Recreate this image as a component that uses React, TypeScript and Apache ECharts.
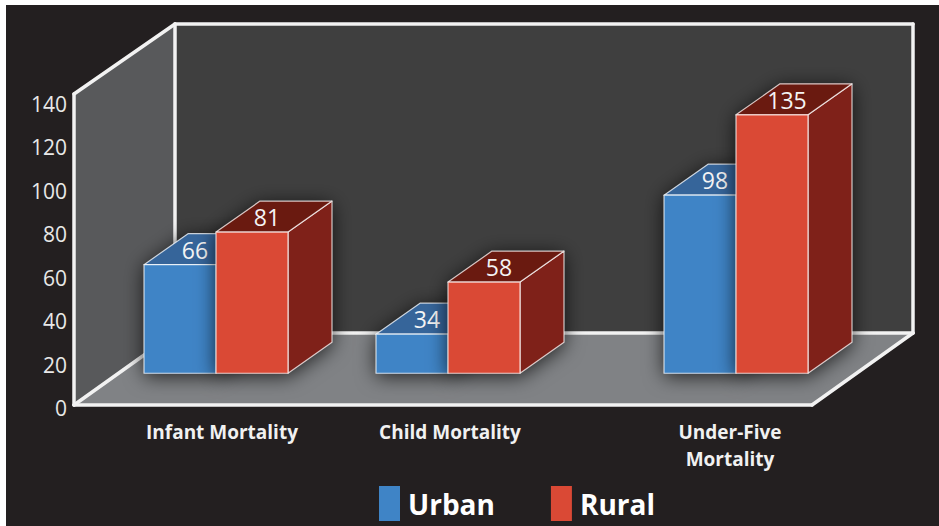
import React, { useEffect, useRef } from "react";
import * as echarts from "echarts";

const categories = ["Infant Mortality", "Child Mortality", "Under-Five\nMortality"];
const urbanValues = [66, 34, 98];
const ruralValues = [81, 58, 135];
const yTicks = { min: 0, max: 140, interval: 20 };

// Layout of the pseudo-3D scene (page pixels); the x axis runs in page pixels.
const groupCenters = [216, 448, 736];
const labelCenters = [222, 450, 730];
const BAR_W = 72;
const DEPTH_X = 44;
const DEPTH_Y = -31;
const FLOOR_VALUE = 16; // the bars stand on the floor, above the axis' zero line

const FONT = '"Open Sans", sans-serif';

function barRenderer(side: "left" | "right", front: string, top: string, sideFace: string) {
  return (params: any, api: any) => {
    const cx = api.value(0);
    const v = api.value(1);
    const [xc, yTop] = api.coord([cx, v]);
    const yBase = api.coord([cx, FLOOR_VALUE])[1];
    const x0 = side === "left" ? xc - BAR_W : xc;
    const x1 = x0 + BAR_W;
    const edge = { stroke: "rgba(255,255,255,0.75)", lineWidth: 1.2, lineJoin: "round" };
    const shadow = { shadowBlur: 20, shadowColor: "rgba(0,0,0,0.75)", shadowOffsetY: 3 };
    return {
      type: "group",
      children: [
        {
          type: "polygon",
          shape: {
            points: [
              [x0, yBase], [x1, yBase], [x1 + DEPTH_X, yBase + DEPTH_Y],
              [x1 + DEPTH_X, yTop + DEPTH_Y], [x0 + DEPTH_X, yTop + DEPTH_Y], [x0, yTop],
            ],
          },
          style: { fill: sideFace, ...shadow },
        },
        {
          type: "polygon",
          shape: { points: [[x1, yBase], [x1 + DEPTH_X, yBase + DEPTH_Y], [x1 + DEPTH_X, yTop + DEPTH_Y], [x1, yTop]] },
          style: { fill: sideFace, ...edge },
        },
        {
          type: "polygon",
          shape: { points: [[x0, yTop], [x1, yTop], [x1 + DEPTH_X, yTop + DEPTH_Y], [x0 + DEPTH_X, yTop + DEPTH_Y]] },
          style: { fill: top, ...edge },
        },
        {
          type: "rect",
          shape: { x: x0, y: yTop, width: BAR_W, height: yBase - yTop },
          style: { fill: front, ...edge },
        },
        {
          type: "text",
          style: {
            text: String(v),
            x: x0 + 51,
            y: yTop - 15,
            align: "center",
            verticalAlign: "middle",
            fill: "#f4f4f4",
            font: `23px ${FONT}`,
          },
        },
      ],
    };
  };
}

const line = (x1: number, y1: number, x2: number, y2: number, lineWidth = 3.5) => ({
  type: "line",
  z: -1,
  shape: { x1, y1, x2, y2 },
  style: { stroke: "#f2f2f2", lineWidth, lineCap: "round" },
});
const poly = (points: number[][], fill: string) => ({
  type: "polygon",
  z: -2,
  shape: { points },
  style: { fill },
});

export default function App() {
  const ref = useRef<HTMLDivElement>(null);
  useEffect(() => {
    const chart = echarts.init(ref.current!, null, { renderer: "svg" });
    chart.setOption({
      animation: false,
      backgroundColor: "#ffffff",
      textStyle: { fontFamily: FONT },
      grid: { left: 74, right: 26, top: 104, bottom: 118 },
      xAxis: {
        type: "value",
        min: 74,
        max: 913,
        splitLine: { show: false },
        axisLine: { show: false },
        axisTick: { show: false },
        axisLabel: {
          customValues: labelCenters,
          formatter: (v: number) => categories[labelCenters.indexOf(v)] ?? "",
          color: "#f1f1f1",
          fontFamily: FONT,
          fontWeight: "bold",
          fontSize: 19,
          lineHeight: 27,
          margin: 10,
        },
      },
      yAxis: {
        type: "value",
        ...yTicks,
        splitLine: { show: false },
        axisLine: { show: false },
        axisTick: { show: false },
        axisLabel: { color: "#e8e8e8", fontSize: 21, fontFamily: FONT, margin: 7 },
      },
      legend: {
        left: 379,
        top: 486,
        padding: 0,
        itemWidth: 21,
        itemHeight: 35,
        itemGap: 56,
        selectedMode: false,
        icon: "rect",
        data: ["Urban", "Rural"],
        textStyle: { color: "#ffffff", fontSize: 28, fontWeight: "bold", fontFamily: FONT, padding: [17, 0, 0, 3] },
      },
      graphic: [
        { type: "rect", z: -3, shape: { x: 6, y: 5, width: 933, height: 521 }, style: { fill: "#231f20" } },
        poly([[175, 24], [913, 24], [913, 333], [175, 333]], "#3f3f3f"),
        poly([[74, 94], [175, 24], [175, 333], [74, 405]], "#58595b"),
        poly([[74, 405], [175, 333], [913, 333], [812, 405]], "#808285"),
        line(74, 94, 175, 24),
        line(175, 24, 913, 24),
        line(175, 24, 175, 333),
        line(913, 24, 913, 333),
        line(74, 94, 74, 405),
        line(74, 405, 812, 405),
        line(74, 405, 175, 333),
        line(175, 333, 913, 333),
        line(812, 405, 913, 333),
      ],
      series: [
        {
          name: "Urban",
          type: "custom",
          z: 5,
          itemStyle: { color: "#3f84c6" },
          encode: { x: 0, y: 1 },
          data: groupCenters.map((c, i) => [c, urbanValues[i]]),
          renderItem: barRenderer("left", "#3f84c6", "#36659a", "#2d5a8c"),
        },
        {
          name: "Rural",
          type: "custom",
          z: 6,
          itemStyle: { color: "#da4935" },
          encode: { x: 0, y: 1 },
          data: groupCenters.map((c, i) => [c, ruralValues[i]]),
          renderItem: barRenderer("right", "#da4935", "#6a1a10", "#7f2119"),
        },
      ],
    });
    return () => chart.dispose();
  }, []);
  return <div ref={ref} style={{ position: "fixed", left: 0, top: 0, width: 939, height: 526 }} />;
}
